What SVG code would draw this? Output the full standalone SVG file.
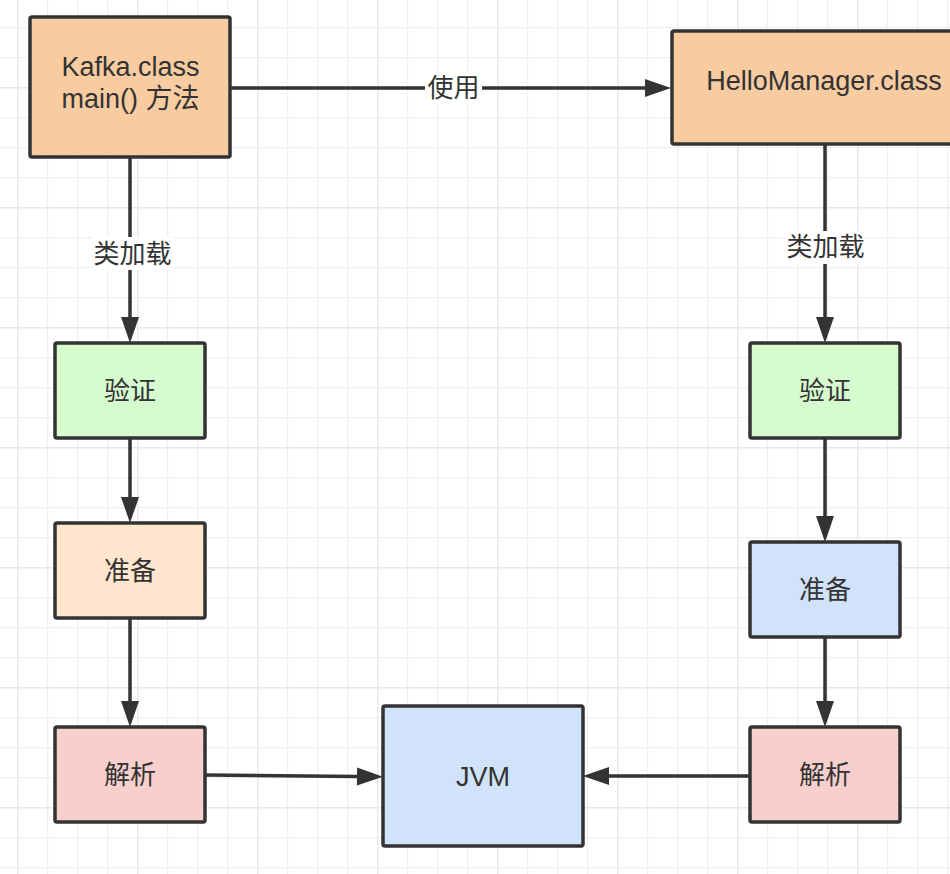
<svg xmlns="http://www.w3.org/2000/svg" width="950" height="874" viewBox="0 0 950 874">
<style>
.box{stroke:#333333;stroke-width:3.5}
.t{font-family:"Liberation Sans","Noto Sans CJK SC",sans-serif;font-size:27px;fill:#333333;text-anchor:middle}
.c{font-size:26px}
.edge{stroke:#333333;stroke-width:3.5;fill:none}
.lbg{fill:#ffffff}
</style>
<defs>
<pattern id="minor" x="17" y="27" width="30" height="30" patternUnits="userSpaceOnUse">
<path d="M0.5 0V30M0 0.5H30" stroke="#efefef" stroke-width="1.5" fill="none"/>
</pattern>
<pattern id="major" x="17" y="87" width="120" height="120" patternUnits="userSpaceOnUse">
<path d="M0.5 0V120M0 0.5H120" stroke="#e9e9e9" stroke-width="1.8" fill="none"/>
</pattern>
<marker id="arr" markerUnits="userSpaceOnUse" markerWidth="28" markerHeight="20" refX="0" refY="9" orient="auto" overflow="visible">
<path d="M0 0L26 9L0 18Z" fill="#333333"/>
</marker>
</defs>
<rect width="950" height="874" fill="#ffffff"/>
<rect width="950" height="874" fill="url(#minor)"/>
<rect width="950" height="874" fill="url(#major)"/>

<g id="connectors">
<path class="edge" d="M230 88H645" marker-end="url(#arr)"/>
<path class="edge" d="M130 157V317" marker-end="url(#arr)"/>
<path class="edge" d="M825 144V317" marker-end="url(#arr)"/>
<path class="edge" d="M130 438V497" marker-end="url(#arr)"/>
<path class="edge" d="M130 618V701" marker-end="url(#arr)"/>
<path class="edge" d="M825 438V516" marker-end="url(#arr)"/>
<path class="edge" d="M825 637V701" marker-end="url(#arr)"/>
<path class="edge" d="M205 775L357 776.5" marker-end="url(#arr)"/>
<path class="edge" d="M750 776H609" marker-end="url(#arr)"/>
<rect class="lbg" x="425" y="72" width="57" height="32"/>
<text class="t c" x="453.5" y="97">使用</text>
<rect class="lbg" x="92" y="237" width="81" height="33"/>
<text class="t c" x="132.5" y="263">类加载</text>
<rect class="lbg" x="786" y="231" width="80" height="33"/>
<text class="t c" x="825.5" y="256">类加载</text>
</g>

<g id="kafka">
<rect class="box" x="30" y="17" width="200" height="140" rx="2" fill="#f8cca0"/>
<text class="t" x="130.5" y="76">Kafka.class</text>
<text class="t" x="130.5" y="108">main() 方法</text>
</g>
<g id="hello">
<rect class="box" x="672" y="31" width="304" height="113" rx="2" fill="#f8cca0"/>
<text class="t" x="824" y="90">HelloManager.class</text>
</g>
<g id="verify-left">
<rect class="box" x="55" y="343" width="150" height="95" rx="2" fill="#d5fbcf"/>
<text class="t c" x="130" y="400">验证</text>
</g>
<g id="prepare-left">
<rect class="box" x="55" y="523" width="150" height="95" rx="2" fill="#ffe6cd"/>
<text class="t c" x="130" y="580">准备</text>
</g>
<g id="resolve-left">
<rect class="box" x="55" y="727" width="150" height="95" rx="2" fill="#f7cfcd"/>
<text class="t c" x="130" y="784">解析</text>
</g>
<g id="jvm">
<rect class="box" x="383" y="706" width="200" height="140" rx="2" fill="#d0e3fa"/>
<text class="t" x="483" y="786">JVM</text>
</g>
<g id="verify-right">
<rect class="box" x="750" y="343" width="150" height="95" rx="2" fill="#d5fbcf"/>
<text class="t c" x="825" y="400">验证</text>
</g>
<g id="prepare-right">
<rect class="box" x="750" y="542" width="150" height="95" rx="2" fill="#d0e3fa"/>
<text class="t c" x="825" y="599">准备</text>
</g>
<g id="resolve-right">
<rect class="box" x="750" y="727" width="150" height="95" rx="2" fill="#f7cfcd"/>
<text class="t c" x="825" y="784">解析</text>
</g>
</svg>
